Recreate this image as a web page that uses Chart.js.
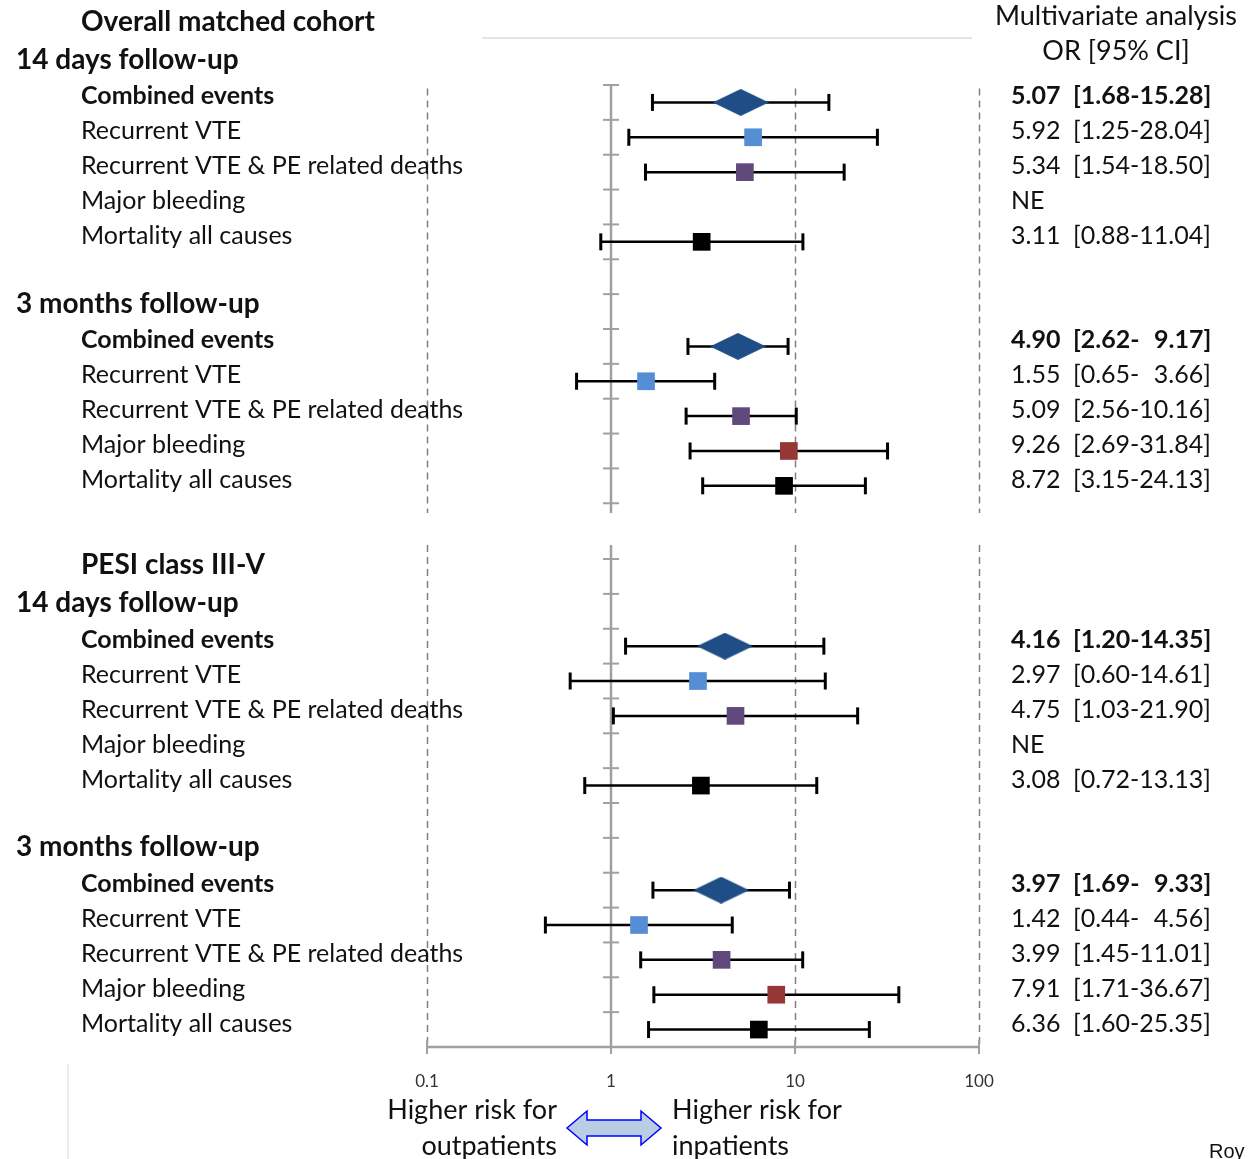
<!DOCTYPE html>
<html>
<head>
<meta charset="utf-8">
<script src="https://cdn.jsdelivr.net/npm/chart.js@4.4.1/dist/chart.umd.min.js"></script>
<style>
  html, body { margin: 0; padding: 0; background: #fff; }
  #wrap { width: 1253px; height: 1159px; position: relative; }
</style>
</head>
<body>
<div id="wrap"><canvas id="forest" width="1253" height="1159"></canvas></div>
<script>
// --- data ---
const panelTitles = ['Overall matched cohort', 'PESI class III-V'];
const periodTitles = ['14 days follow-up', '3 months follow-up'];
const outcomes = ['Combined events', 'Recurrent VTE', 'Recurrent VTE & PE related deaths', 'Major bleeding', 'Mortality all causes'];

const orOverall14 = [5.07, 5.92, 5.34, null, 3.11];
const loOverall14 = [1.68, 1.25, 1.54, null, 0.88];
const hiOverall14 = [15.28, 28.04, 18.50, null, 11.04];

const orOverall3m = [4.90, 1.55, 5.09, 9.26, 8.72];
const loOverall3m = [2.62, 0.65, 2.56, 2.69, 3.15];
const hiOverall3m = [9.17, 3.66, 10.16, 31.84, 24.13];

const orPesi14 = [4.16, 2.97, 4.75, null, 3.08];
const loPesi14 = [1.20, 0.60, 1.03, null, 0.72];
const hiPesi14 = [14.35, 14.61, 21.90, null, 13.13];

const orPesi3m = [3.97, 1.42, 3.99, 7.91, 6.36];
const loPesi3m = [1.69, 0.44, 1.45, 1.71, 1.60];
const hiPesi3m = [9.33, 4.56, 11.01, 36.67, 25.35];

const xTicks = [0.1, 1, 10, 100];
const outcomeColors = ['#1f4e86', '#558ed5', '#604a7b', '#953735', '#000000'];

// --- layout helpers ---
const FONT = 'Lato, "Open Sans", sans-serif';
const blocks = [
  { panel: 0, period: 0, or: orOverall14, lo: loOverall14, hi: hiOverall14 },
  { panel: 0, period: 1, or: orOverall3m, lo: loOverall3m, hi: hiOverall3m },
  { panel: 1, period: 0, or: orPesi14, lo: loPesi14, hi: hiPesi14 },
  { panel: 1, period: 1, or: orPesi3m, lo: loPesi3m, hi: hiPesi3m }
];
const panelBase = [-2, 13.6];
// row k inside a panel: 1 title, 2 first period, 3-7 outcomes, 9 second period, 10-14 outcomes
const rowOf = (panel, k) => panelBase[panel] + k - 0.5;
const itemRow = (b, i) => rowOf(b.panel, (b.period ? 10 : 3) + i);
const segments = [
  { from: -0.03, to: 12.28, tick0: 0, tick1: 12, dashFrom: 0.1 },
  { from: 13.2, to: 27.6, tick0: 13.6, tick1: 26.6, dashFrom: 13.2 }
];

// diamond glyph for combined events
const diamond = document.createElement('canvas');
diamond.width = 56; diamond.height = 27;
(function () {
  const g = diamond.getContext('2d');
  g.fillStyle = outcomeColors[0];
  g.beginPath();
  g.moveTo(0, 13.5); g.lineTo(28, 0); g.lineTo(56, 13.5); g.lineTo(28, 27);
  g.closePath(); g.fill();
})();

// --- datasets ---
const datasets = [];
outcomes.forEach((name, i) => {
  const pts = [];
  blocks.forEach(b => { if (b.or[i] != null) pts.push({ x: b.or[i], y: itemRow(b, i) }); });
  datasets.push({
    type: 'scatter', label: name, data: pts, order: 0,
    pointStyle: i === 0 ? diamond : 'rect',
    pointRadius: 12.5, pointBackgroundColor: outcomeColors[i],
    pointBorderColor: outcomeColors[i], pointBorderWidth: 0
  });
});
blocks.forEach(b => {
  outcomes.forEach((name, i) => {
    if (b.or[i] == null) return;
    const y = itemRow(b, i);
    datasets.push({
      type: 'line', label: name + ' CI', order: 1,
      data: [{ x: b.lo[i], y: y }, { x: b.hi[i], y: y }],
      borderColor: '#000', borderWidth: 2.5,
      pointStyle: 'line', rotation: 90, pointRadius: 8.5,
      pointBorderColor: '#000', pointBorderWidth: 3
    });
  });
});

// --- frame: axis lines, dashed guides ---
const framePlugin = {
  id: 'frame',
  beforeDatasetsDraw(chart) {
    const { ctx, scales: { x, y } } = chart;
    ctx.save();
    // faint top border
    ctx.strokeStyle = '#dcdcdc'; ctx.lineWidth = 1.5;
    ctx.beginPath(); ctx.moveTo(482, 38); ctx.lineTo(972, 38); ctx.stroke();
    ctx.strokeStyle = '#e4e4e4'; ctx.lineWidth = 1.5;
    ctx.beginPath(); ctx.moveTo(68, 1064); ctx.lineTo(68, 1159); ctx.stroke();

    segments.forEach(s => {
      // dashed lines at 0.1, 10, 100
      ctx.setLineDash([7, 5]);
      ctx.strokeStyle = '#808080'; ctx.lineWidth = 1.5;
      [0.1, 10, 100].forEach(v => {
        const px = Math.round(x.getPixelForValue(v)) + 0.5;
        ctx.beginPath(); ctx.moveTo(px, y.getPixelForValue(s.dashFrom)); ctx.lineTo(px, y.getPixelForValue(s.to)); ctx.stroke();
      });
      ctx.setLineDash([]);
      // solid line of no effect with row ticks
      const p1 = x.getPixelForValue(1);
      ctx.strokeStyle = '#a0a0a0'; ctx.lineWidth = 2.5;
      ctx.beginPath(); ctx.moveTo(p1, y.getPixelForValue(s.from)); ctx.lineTo(p1, y.getPixelForValue(s.to)); ctx.stroke();
      ctx.lineWidth = 2;
      for (let t = s.tick0; t <= s.tick1 + 0.001; t += 1) {
        const py = y.getPixelForValue(t);
        ctx.beginPath(); ctx.moveTo(p1 - 8, py); ctx.lineTo(p1 + 8, py); ctx.stroke();
      }
    });
    // x axis line with ticks
    const yb = chart.chartArea.bottom;
    ctx.strokeStyle = '#a0a0a0'; ctx.lineWidth = 2.5;
    ctx.beginPath(); ctx.moveTo(x.getPixelForValue(0.1), yb); ctx.lineTo(x.getPixelForValue(100), yb); ctx.stroke();
    ctx.lineWidth = 2;
    xTicks.forEach(v => {
      const px = x.getPixelForValue(v);
      ctx.beginPath(); ctx.moveTo(px, yb - 7); ctx.lineTo(px, yb + 7); ctx.stroke();
    });
    ctx.restore();
  }
};

// --- text table ---
function fmtCI(lo, hi) {
  return '[' + lo.toFixed(2) + '-' + (hi < 10 ? '\u2007' : '') + hi.toFixed(2) + ']';
}
const textPlugin = {
  id: 'texts',
  afterDraw(chart) {
    const { ctx, scales: { x, y } } = chart;
    ctx.save();
    ctx.fillStyle = '#111';
    ctx.textBaseline = 'middle';
    ctx.textAlign = 'left';
    const put = (txt, px, py, size, bold) => {
      ctx.font = (bold ? 'bold ' : '') + size + 'px ' + FONT;
      ctx.fillText(txt, px, py);
    };
    panelTitles.forEach((t, p) => put(t, 81, y.getPixelForValue(rowOf(p, 1)) - 11, 28, true));
    blocks.forEach(b => {
      put(periodTitles[b.period], 16, y.getPixelForValue(rowOf(b.panel, b.period ? 9 : 2)) - 8, 28, true);
      outcomes.forEach((name, i) => {
        const py = y.getPixelForValue(itemRow(b, i)) - 6;
        const bold = i === 0;
        put(name, 81, py, 25, bold);
        if (b.or[i] == null) {
          put('NE', 1011, py, 25, false);
        } else {
          put(b.or[i].toFixed(2), 1011, py, 25, bold);
          put(fmtCI(b.lo[i], b.hi[i]), 1073, py, 25, bold);
        }
      });
    });
    // right column header
    ctx.textAlign = 'center';
    put('Multivariate analysis', 1116, 16, 27, false);
    put('OR [95% CI]', 1116, 51, 27, false);
    // direction labels
    ctx.textAlign = 'right';
    put('Higher risk for', 557, 1110, 27, false);
    put('outpatients', 557, 1146, 27, false);
    ctx.textAlign = 'left';
    put('Higher risk for', 672, 1110, 27, false);
    put('inpatients', 672, 1146, 27, false);
    ctx.textBaseline = 'top';
    ctx.font = '20px "Liberation Sans", Arial, sans-serif';
    ctx.fillText('Roy', 1209, 1142);
    // double arrow
    const cx = x.getPixelForValue(1) + 3, cy = 1128;
    ctx.beginPath();
    ctx.moveTo(cx - 47, cy);
    ctx.lineTo(cx - 27, cy - 17); ctx.lineTo(cx - 27, cy - 8);
    ctx.lineTo(cx + 27, cy - 8); ctx.lineTo(cx + 27, cy - 17);
    ctx.lineTo(cx + 47, cy);
    ctx.lineTo(cx + 27, cy + 17); ctx.lineTo(cx + 27, cy + 8);
    ctx.lineTo(cx - 27, cy + 8); ctx.lineTo(cx - 27, cy + 17);
    ctx.closePath();
    ctx.fillStyle = '#b9cde5'; ctx.fill();
    ctx.strokeStyle = '#0000ff'; ctx.lineWidth = 1.5; ctx.stroke();
    ctx.restore();
  }
};

new Chart(document.getElementById('forest'), {
  type: 'scatter',
  data: { datasets: datasets },
  options: {
    responsive: false,
    animation: false,
    layout: { padding: { left: 427, right: 274, top: 85, bottom: 0 } },
    scales: {
      x: {
        type: 'logarithmic', min: 0.1, max: 100,
        afterBuildTicks: s => { s.ticks = xTicks.map(v => ({ value: v })); },
        afterFit: s => { s.height = 112; },
        grid: { display: false, drawTicks: false },
        border: { display: false },
        ticks: {
          autoSkip: false, maxRotation: 0, padding: 24,
          color: '#333', font: { family: FONT, size: 17 },
          callback: v => String(v)
        }
      },
      y: { display: false, min: 0, max: 27.6, reverse: true }
    },
    plugins: { legend: { display: false }, tooltip: { enabled: false } }
  },
  plugins: [framePlugin, textPlugin]
});
</script>
</body>
</html>
